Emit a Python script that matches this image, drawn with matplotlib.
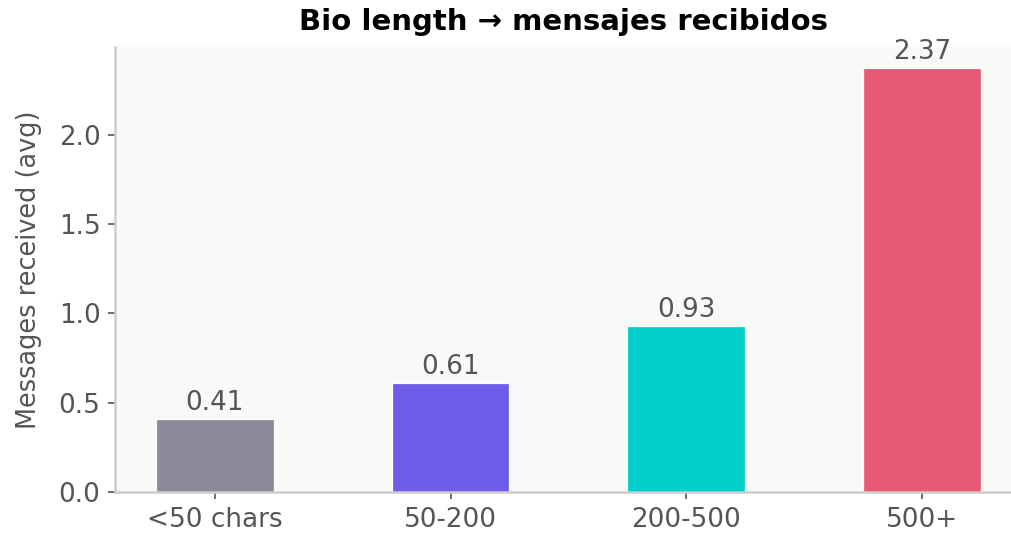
import matplotlib
matplotlib.use("Agg")
import matplotlib.pyplot as plt

categorias = ["<50 chars", "50-200", "200-500", "500+"]
mensajes = [0.41, 0.61, 0.93, 2.37]
colores = ["#8a8999", "#6c5ce7", "#00cec9", "#e85a74"]

fig = plt.figure(figsize=(10.12 / 1.5, 5.4 / 1.5), dpi=150)
ax = fig.add_axes([115 / 1012, 1 - 492 / 540, (1012 - 115) / 1012, (492 - 47) / 540])
ax.set_facecolor("#f9f9f7")

x = range(len(categorias))
barras = ax.bar(x, mensajes, width=0.5, color=colores, edgecolor="white", linewidth=0.6)
for b, v in zip(barras, mensajes):
    ax.annotate(f"{v:.2f}", (b.get_x() + b.get_width() / 2, v), xytext=(0, 1.5),
                textcoords="offset points", ha="center", va="bottom",
                fontsize=12.6, color="#555555")

ax.set_xticks(list(x))
ax.set_xticklabels(categorias)
ax.set_xlim(-0.424, 3.383)
ax.set_ylim(0, 2.49)
ax.set_yticks([0, 0.5, 1.0, 1.5, 2.0])
ax.set_ylabel("Messages received (avg)", fontsize=12.3, color="#555555", labelpad=8)
ax.set_title("Bio length → mensajes recibidos", fontsize=14, fontweight="bold", pad=8)
ax.tick_params(labelsize=12.6, colors="#555555")
for s in ["top", "right"]:
    ax.spines[s].set_visible(False)
for s in ["left", "bottom"]:
    ax.spines[s].set_color("#cccccc")
    ax.spines[s].set_linewidth(1.2)

fig.savefig("out.png", dpi=150)
